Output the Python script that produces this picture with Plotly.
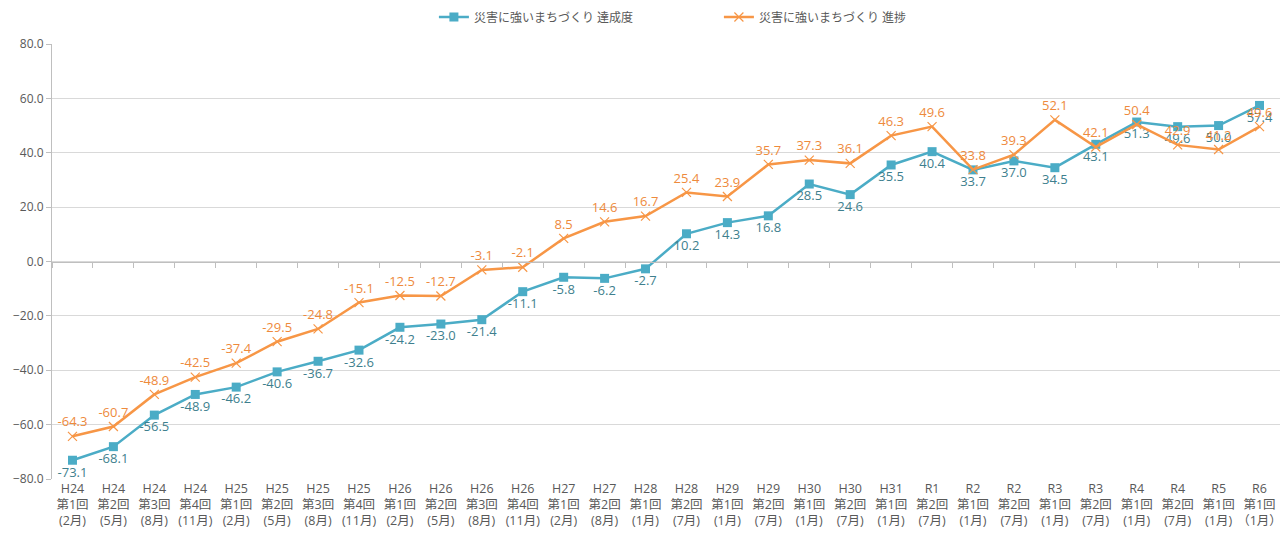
import plotly.graph_objects as go

categories = [
    "H24<br>第1回<br>(2月)", "H24<br>第2回<br>(5月)", "H24<br>第3回<br>(8月)", "H24<br>第4回<br>(11月)",
    "H25<br>第1回<br>(2月)", "H25<br>第2回<br>(5月)", "H25<br>第3回<br>(8月)", "H25<br>第4回<br>(11月)",
    "H26<br>第1回<br>(2月)", "H26<br>第2回<br>(5月)", "H26<br>第3回<br>(8月)", "H26<br>第4回<br>(11月)",
    "H27<br>第1回<br>(2月)", "H27<br>第2回<br>(8月)", "H28<br>第1回<br>(1月)", "H28<br>第2回<br>(7月)",
    "H29<br>第1回<br>(1月)", "H29<br>第2回<br>(7月)", "H30<br>第1回<br>(1月)", "H30<br>第2回<br>(7月)",
    "H31<br>第1回<br>(1月)", "R1<br>第2回<br>(7月)", "R2<br>第1回<br>(1月)", "R2<br>第2回<br>(7月)",
    "R3<br>第1回<br>(1月)", "R3<br>第2回<br>(7月)", "R4<br>第1回<br>(1月)", "R4<br>第2回<br>(7月)",
    "R5<br>第1回<br>(1月)", "R6<br>第1回<br>（1月）",
]
achievement = [-73.1, -68.1, -56.5, -48.9, -46.2, -40.6, -36.7, -32.6, -24.2, -23.0,
               -21.4, -11.1, -5.8, -6.2, -2.7, 10.2, 14.3, 16.8, 28.5, 24.6,
               35.5, 40.4, 33.7, 37.0, 34.5, 43.1, 51.3, 49.6, 50.0, 57.4]
progress = [-64.3, -60.7, -48.9, -42.5, -37.4, -29.5, -24.8, -15.1, -12.5, -12.7,
            -3.1, -2.1, 8.5, 14.6, 16.7, 25.4, 23.9, 35.7, 37.3, 36.1,
            46.3, 49.6, 33.8, 39.3, 52.1, 42.1, 50.4, 42.9, 41.2, 49.6]
name_a = "災害に強いまちづくり 達成度"
name_p = "災害に強いまちづくり 進捗"
y_ticks = [-80, -60, -40, -20, 0, 20, 40, 60, 80]

TEAL = "#4BACC6"
TEAL_TXT = "#3E7F8E"
ORANGE = "#F79646"
ORANGE_TXT = "#EE8A3C"
FONT = "Open Sans, Liberation Sans, Noto Sans CJK JP, sans-serif"

fig = go.Figure()
fig.add_trace(go.Scatter(
    x=categories, y=achievement, name=name_a, mode="lines+markers+text",
    line=dict(color=TEAL, width=2.5),
    marker=dict(symbol="square", size=9, color=TEAL),
    text=[f"{v:.1f}" for v in achievement], textposition="bottom center",
    textfont=dict(color=TEAL_TXT, size=13, family=FONT),
))
fig.add_trace(go.Scatter(
    x=categories, y=progress, name=name_p, mode="lines+markers+text",
    line=dict(color=ORANGE, width=2.5),
    marker=dict(symbol="x-thin-open", size=9, color=ORANGE, line=dict(color=ORANGE, width=1.2)),
    text=[f"{v:.1f}" for v in progress], textposition="top center",
    textfont=dict(color=ORANGE_TXT, size=13, family=FONT),
))
# dummy trace for the zero-crossing category axis
fig.add_trace(go.Scatter(
    x=categories, y=[None] * len(categories), xaxis="x2", yaxis="y",
    showlegend=False, hoverinfo="skip", mode="lines",
))

fig.update_layout(
    width=1280, height=527,
    margin=dict(l=44, r=8, t=36, b=56, autoexpand=False),
    paper_bgcolor="white", plot_bgcolor="white",
    font=dict(family=FONT, color="#595959"),
    legend=dict(orientation="h", x=0.311, xanchor="left", yref="container", y=0.983, yanchor="middle",
                font=dict(size=12, color="#595959"), entrywidth=240, entrywidthmode="pixels"),
    xaxis=dict(
        type="category", showgrid=False, showline=False, ticks="", automargin=False,
        tickfont=dict(size=12.5, color="#595959"), range=[-0.5, len(categories) - 0.5],
    ),
    xaxis2=dict(
        type="category", overlaying="x", anchor="free", position=0.5, side="bottom",
        showline=True, linecolor="#BFBFBF", linewidth=1,
        ticks="outside", tickson="boundaries", ticklen=5, tickcolor="#BFBFBF",
        showticklabels=False, showgrid=False, range=[-0.5, len(categories) - 0.5],
        matches="x",
    ),
    yaxis=dict(
        range=[-80, 80], tickvals=y_ticks, tickformat=".1f", automargin=False,
        showgrid=True, gridcolor="#D9D9D9", gridwidth=1,
        showline=True, linecolor="#BFBFBF", linewidth=1,
        ticks="outside", ticklen=5, tickcolor="#BFBFBF",
        zeroline=False, tickfont=dict(size=12, color="#595959"),
    ),
)

fig.write_html("out.html")
